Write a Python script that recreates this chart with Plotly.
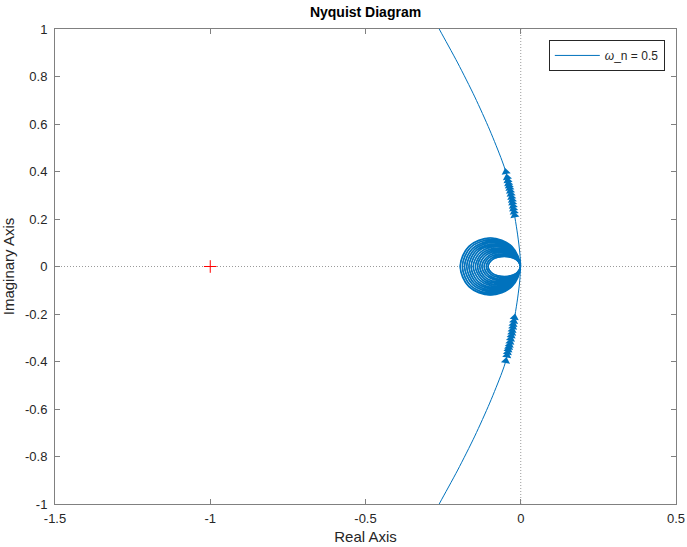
import plotly.graph_objects as go

# ---- data ----
upper_re = [-0.296, -0.261, -0.203, -0.148, -0.100, -0.061, -0.048, -0.035, -0.019, -0.010, -0.003, -0.001]
upper_im = [1.080, 0.996, 0.857, 0.714, 0.575, 0.448, 0.398, 0.322, 0.208, 0.133, 0.057, 0.0]

lower_re = [-0.001, -0.003, -0.010, -0.019, -0.035, -0.048, -0.061, -0.100, -0.148, -0.203, -0.261, -0.296]
lower_im = [0.0, -0.057, -0.133, -0.208, -0.322, -0.398, -0.448, -0.575, -0.714, -0.857, -0.996, -1.080]

loops_re = [
    [-0.029, -0.098, -0.167, -0.195, -0.167, -0.098, -0.029, -0.001],
    [-0.028, -0.095, -0.161, -0.188, -0.161, -0.095, -0.028, -0.001],
    [-0.027, -0.091, -0.155, -0.181, -0.155, -0.091, -0.027, -0.001],
    [-0.026, -0.088, -0.149, -0.174, -0.149, -0.088, -0.026, -0.001],
    [-0.025, -0.084, -0.143, -0.167, -0.143, -0.084, -0.025, -0.001],
    [-0.024, -0.081, -0.137, -0.160, -0.137, -0.081, -0.024, -0.001],
    [-0.023, -0.077, -0.131, -0.153, -0.131, -0.077, -0.023, -0.001],
    [-0.022, -0.074, -0.125, -0.146, -0.125, -0.074, -0.022, -0.001],
    [-0.021, -0.070, -0.119, -0.139, -0.119, -0.070, -0.021, -0.001],
    [-0.020, -0.067, -0.113, -0.132, -0.113, -0.067, -0.020, -0.001],
    [-0.019, -0.063, -0.107, -0.125, -0.107, -0.063, -0.019, -0.001],
    [-0.018, -0.060, -0.101, -0.118, -0.101, -0.060, -0.018, -0.001],
    [-0.017, -0.056, -0.095, -0.111, -0.095, -0.056, -0.017, -0.001],
    [-0.016, -0.053, -0.090, -0.105, -0.090, -0.053, -0.016, -0.001],
]
loops_im = [
    [0.085, 0.120, 0.085, 0.0, -0.085, -0.120, -0.085, 0.0],
    [0.081, 0.114, 0.081, 0.0, -0.081, -0.114, -0.081, 0.0],
    [0.076, 0.108, 0.076, 0.0, -0.076, -0.108, -0.076, 0.0],
    [0.072, 0.102, 0.072, 0.0, -0.072, -0.102, -0.072, 0.0],
    [0.068, 0.096, 0.068, 0.0, -0.068, -0.096, -0.068, 0.0],
    [0.064, 0.090, 0.064, 0.0, -0.064, -0.090, -0.064, 0.0],
    [0.059, 0.084, 0.059, 0.0, -0.059, -0.084, -0.059, 0.0],
    [0.055, 0.078, 0.055, 0.0, -0.055, -0.078, -0.055, 0.0],
    [0.051, 0.072, 0.051, 0.0, -0.051, -0.072, -0.051, 0.0],
    [0.047, 0.066, 0.047, 0.0, -0.047, -0.066, -0.047, 0.0],
    [0.042, 0.060, 0.042, 0.0, -0.042, -0.060, -0.042, 0.0],
    [0.038, 0.054, 0.038, 0.0, -0.038, -0.054, -0.038, 0.0],
    [0.034, 0.048, 0.034, 0.0, -0.034, -0.048, -0.034, 0.0],
    [0.030, 0.042, 0.030, 0.0, -0.030, -0.042, -0.030, 0.0],
]

arrow_up_re = [-0.048, -0.044, -0.042, -0.040, -0.038, -0.036, -0.034, -0.032, -0.030, -0.028, -0.027, -0.025, -0.024, -0.022, -0.020]
arrow_up_im = [0.398, 0.375, 0.362, 0.350, 0.340, 0.330, 0.318, 0.305, 0.292, 0.280, 0.268, 0.255, 0.243, 0.230, 0.215]
arrow_lo_re = [-0.020, -0.022, -0.024, -0.025, -0.027, -0.028, -0.030, -0.032, -0.034, -0.036, -0.038, -0.040, -0.042, -0.044, -0.048]
arrow_lo_im = [-0.215, -0.230, -0.243, -0.255, -0.268, -0.280, -0.292, -0.305, -0.318, -0.330, -0.340, -0.350, -0.362, -0.375, -0.398]

critical_re = [-1.0]
critical_im = [0.0]

x_ticks = [-1.5, -1.0, -0.5, 0.0, 0.5]
x_labels = ["-1.5", "-1", "-0.5", "0", "0.5"]
y_ticks = [-1.0, -0.8, -0.6, -0.4, -0.2, 0.0, 0.2, 0.4, 0.6, 0.8, 1.0]
y_labels = ["-1", "-0.8", "-0.6", "-0.4", "-0.2", "0", "0.2", "0.4", "0.6", "0.8", "1"]

series_name = "<i>ω</i>_n = 0.5"
blue = "#0072BD"

# ---- build curve ----
loop_re, loop_im = [upper_re[-1]], [upper_im[-1]]
for lr, li in zip(loops_re, loops_im):
    loop_re += lr
    loop_im += li

fig = go.Figure()
fig.add_trace(go.Scatter(
    x=upper_re + loop_re[1:] + lower_re, y=upper_im + loop_im[1:] + lower_im,
    mode="lines", name=series_name,
    line=dict(color=blue, width=1, shape="spline", smoothing=0.8),
))
fig.add_trace(go.Scatter(
    x=loop_re, y=loop_im, mode="lines", showlegend=False,
    line=dict(color=blue, width=1.6, shape="spline", smoothing=1.0),
))
fig.add_trace(go.Scatter(
    x=arrow_up_re, y=arrow_up_im, mode="markers", showlegend=False,
    marker=dict(symbol="triangle-up", size=8, color=blue, angle=-10, line=dict(width=0)),
))
fig.add_trace(go.Scatter(
    x=arrow_lo_re, y=arrow_lo_im, mode="markers", showlegend=False,
    marker=dict(symbol="triangle-up", size=8, color=blue, angle=10, line=dict(width=0)),
))
fig.add_trace(go.Scatter(
    x=critical_re, y=critical_im, mode="markers", showlegend=False,
    marker=dict(symbol="cross-thin", size=9, color="red", line=dict(width=1, color="red")),
))

dot_col = "#9a9a9a"
fig.add_shape(type="line", xref="x", yref="paper", x0=0, x1=0, y0=0, y1=1,
              line=dict(color=dot_col, width=1, dash="1px,2px"), layer="below")
fig.add_shape(type="line", xref="paper", yref="y", x0=0, x1=1, y0=0, y1=0,
              line=dict(color=dot_col, width=1, dash="1px,2px"), layer="below")

axis_col = "#808080"
tick_font = dict(family="Liberation Sans, Arial, sans-serif", size=13, color="#262626")

fig.update_layout(
    width=687, height=547,
    margin=dict(l=55, r=11, t=29, b=43),
    plot_bgcolor="white", paper_bgcolor="white",
    font=dict(family="Liberation Sans, Arial, sans-serif", color="#262626"),
    title=dict(text="<b>Nyquist Diagram</b>", x=0.5, xref="paper", xanchor="center",
               y=1 - 12 / 547, yref="container", yanchor="middle",
               font=dict(size=14, color="#000000")),
    showlegend=True,
    legend=dict(x=0.982, y=0.977, xanchor="right", yanchor="top",
                bgcolor="white", bordercolor="#262626", borderwidth=1,
                font=dict(size=12, color="#262626"), itemwidth=45),
    xaxis=dict(range=[-1.5, 0.5], tickvals=x_ticks, ticktext=x_labels,
               showgrid=False, zeroline=False, showline=True, linecolor=axis_col,
               linewidth=1, mirror="ticks", ticks="inside", ticklen=5,
               tickcolor=axis_col, tickfont=tick_font, automargin=False,
               ticklabelstandoff=2,
               title=dict(text="Real Axis", font=dict(size=15, color="#262626"), standoff=6)),
    yaxis=dict(range=[-1, 1], tickvals=y_ticks, ticktext=y_labels,
               showgrid=False, zeroline=False, showline=True, linecolor=axis_col,
               linewidth=1, mirror="ticks", ticks="inside", ticklen=5,
               tickcolor=axis_col, tickfont=tick_font, automargin=False,
               ticklabelstandoff=4,
               title=dict(text="Imaginary Axis", font=dict(size=15, color="#262626"), standoff=8)),
)

fig.write_html("out.html")
